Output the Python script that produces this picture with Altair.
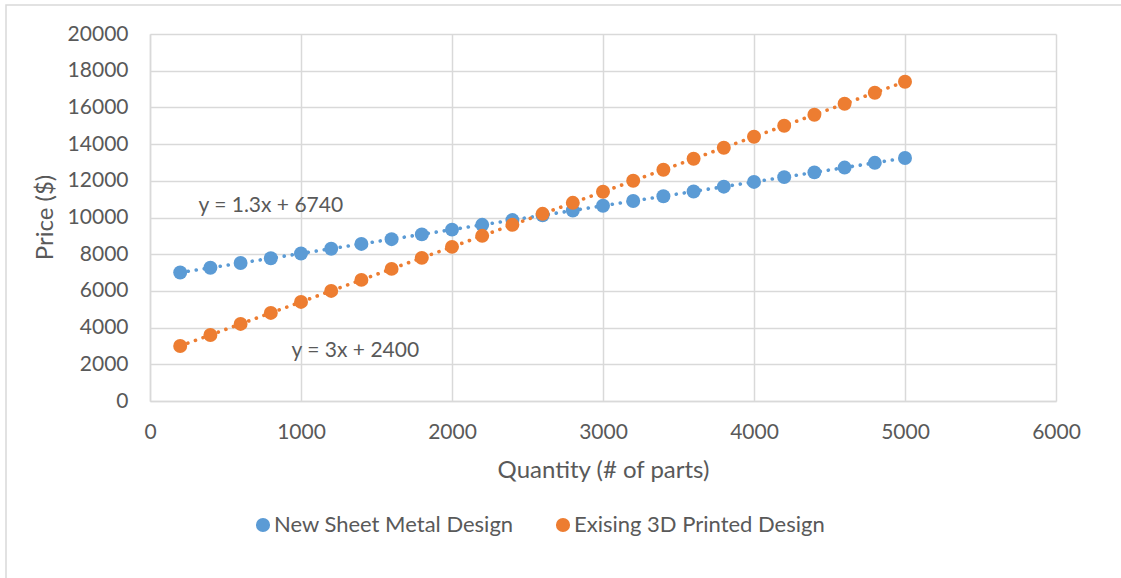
import altair as alt
import numpy as np
import pandas as pd

# Quantity of parts ordered
quantity = [200, 400, 600, 800, 1000, 1200, 1400, 1600, 1800, 2000, 2200, 2400, 2600,
            2800, 3000, 3200, 3400, 3600, 3800, 4000, 4200, 4400, 4600, 4800, 5000]

# Total price ($) for each design
sheet_metal = [7000, 7260, 7520, 7780, 8040, 8300, 8560, 8820, 9080, 9340, 9600, 9860, 10120,
               10380, 10640, 10900, 11160, 11420, 11680, 11940, 12200, 12460, 12720, 12980, 13240]
printed_3d = [3000, 3600, 4200, 4800, 5400, 6000, 6600, 7200, 7800, 8400, 9000, 9600, 10200,
              10800, 11400, 12000, 12600, 13200, 13800, 14400, 15000, 15600, 16200, 16800, 17400]

series_names = ["New Sheet Metal Design", "Exising 3D Printed Design"]
series_colors = ["#5B9BD5", "#ED7D31"]

# Where each trendline equation is written (data units)
label_qty = [800, 1360]
label_price = [10630, 2720]

FONT = "Lato"
GREY_TEXT = "#595959"
GRID = "#D9D9D9"

n = len(quantity)
df = pd.DataFrame({
    "qty": quantity * 2,
    "price": sheet_metal + printed_3d,
    "series": [series_names[0]] * n + [series_names[1]] * n,
})


def trend_label(values):
    slope, intercept = np.polyfit(quantity, values, 1)
    return f"y = {slope:.2f}".rstrip("0").rstrip(".") + f"x + {intercept:.0f}"


eq_df = pd.DataFrame({
    "qty": label_qty,
    "price": label_price,
    "eq": [trend_label(sheet_metal), trend_label(printed_3d)],
})

color_scale = alt.Scale(domain=series_names, range=series_colors)
x_scale = alt.Scale(domain=[0, 6000], nice=False)
y_scale = alt.Scale(domain=[0, 20000], nice=False)
x_enc = alt.X("qty:Q", title="Quantity (# of parts)", scale=x_scale,
              axis=alt.Axis(values=[0, 1000, 2000, 3000, 4000, 5000, 6000],
                            format="d", labelOverlap=False, labelFlush=False))
y_enc = alt.Y("price:Q", title="Price ($)", scale=y_scale,
              axis=alt.Axis(values=[0, 2000, 4000, 6000, 8000, 10000, 12000,
                                    14000, 16000, 18000, 20000],
                            format="d", labelOverlap=False, labelFlush=False))

base = alt.Chart(df)

frame = alt.Chart(pd.DataFrame({"k": [0]})).mark_rect(
    fill=None, stroke=GRID, strokeWidth=1.5
).encode(
    x=alt.value(-144), x2=alt.value(990), y=alt.value(-29), y2=alt.value(560)
)

trend = base.transform_regression(
    "qty", "price", groupby=["series"]
).mark_line(strokeDash=[0.1, 8], strokeCap="round", strokeWidth=3.6).encode(
    x=x_enc, y=y_enc,
    color=alt.Color("series:N", scale=color_scale, legend=None),
)

points = base.mark_circle(size=195, opacity=1).encode(
    x=x_enc, y=y_enc,
    color=alt.Color("series:N", scale=color_scale, title=None, sort=series_names),
)

equations = alt.Chart(eq_df).mark_text(font=FONT, fontSize=21, color=GREY_TEXT).encode(
    x=x_enc, y=y_enc, text="eq:N",
)

chart = alt.layer(trend, points, equations, frame).resolve_legend(
    color="independent"
).properties(
    width=906, height=367,
    autosize=alt.AutoSizeParams(type="none"),
    padding={"left": 150, "top": 34, "right": 65, "bottom": 177},
).configure_view(stroke=None).configure_axis(
    labelFont=FONT, labelFontSize=21, labelColor=GREY_TEXT,
    titleFont=FONT, titleFontSize=24, titleColor=GREY_TEXT, titleFontWeight="normal",
    gridColor=GRID, gridWidth=1.5, domainColor=GRID, domainWidth=1.5,
    ticks=False,
).configure_axisY(
    labelPadding=22, titleX=-105, titleY=183, titleBaseline="middle", titleAngle=270,
).configure_axisX(
    labelPadding=20, titleY=69, titleBaseline="middle",
).configure_legend(
    orient="none", legendX=102, legendY=480, direction="horizontal",
    labelFont=FONT, labelFontSize=22, labelColor=GREY_TEXT,
    symbolType="circle", symbolSize=200, symbolStrokeWidth=0,
    labelOffset=0, columnPadding=38, labelLimit=400,
)

chart.save("out.html", embed_options={"renderer": "svg", "actions": False})
